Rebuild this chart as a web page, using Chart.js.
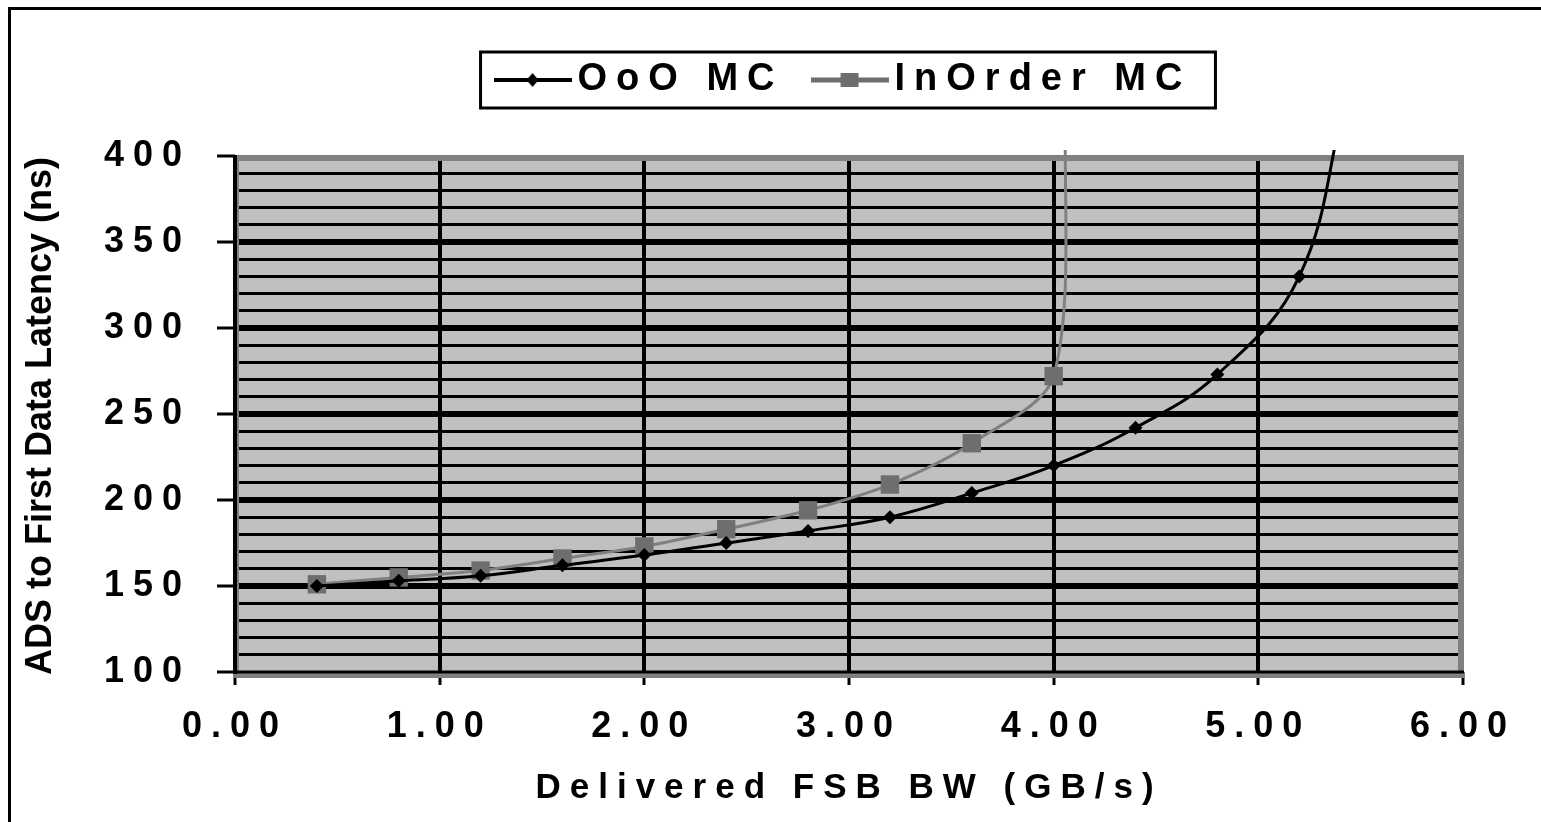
<!DOCTYPE html>
<html>
<head>
<meta charset="utf-8">
<title>ADS to First Data Latency</title>
<script src="https://cdn.jsdelivr.net/npm/chart.js@4.4.0/dist/chart.umd.min.js"></script>
<style>
  html, body { margin: 0; padding: 0; background: #fff; }
  #wrap { width: 1541px; height: 822px; position: relative; }
</style>
</head>
<body>
<div id="wrap"><canvas id="latencyChart"></canvas></div>
<script>
// values (the last point of each series is the line running off the top)
const oooBandwidth = [0.4, 0.8, 1.2, 1.6, 2.0, 2.4, 2.8, 3.2, 3.6, 4.0, 4.4, 4.8, 5.2, 5.42];
const oooLatency = [150, 153, 156, 162, 168, 175, 182, 190, 204, 220, 242, 273, 330, 430];
const inOrderBandwidth = [0.4, 0.8, 1.2, 1.6, 2.0, 2.4, 2.8, 3.2, 3.6, 4.0, 4.06];
const inOrderLatency = [151, 155, 159, 166, 173, 183, 194, 209, 233, 272, 430];
const xTickValues = [0, 1, 2, 3, 4, 5, 6];
const yTickLabels = [100, 150, 200, 250, 300, 350, 400];

const FONT = 'Arial, "Liberation Sans", sans-serif';
Chart.defaults.font.family = FONT;
Chart.defaults.font.weight = 'bold';
Chart.defaults.color = '#000';

function toPoints(xs, ys) {
    return xs.map((x, i) => ({ x: x, y: ys[i] }));
}

// legend samples: a short line with the marker on it
function makeIcon(lineColor, lineWidth, drawMarker) {
    const c = document.createElement('canvas');
    c.width = 78;
    c.height = 22;
    const g = c.getContext('2d');
    g.strokeStyle = lineColor;
    g.lineWidth = lineWidth;
    g.beginPath();
    g.moveTo(0, 11);
    g.lineTo(78, 11);
    g.stroke();
    drawMarker(g);
    return c;
}
const oooIcon = makeIcon('#000', 4, g => {
    g.fillStyle = '#000';
    g.beginPath();
    g.moveTo(39, 4); g.lineTo(45, 11); g.lineTo(39, 18); g.lineTo(33, 11);
    g.closePath();
    g.fill();
});
const inOrderIcon = makeIcon('#6e6e6e', 5, g => {
    g.fillStyle = '#6e6e6e';
    g.fillRect(30, 4, 18, 14);
});
const legendIcons = [oooIcon, inOrderIcon];

const plotDecor = {
    id: 'plotDecor',
    beforeInit(chart) {
        const legend = chart.legend;
        if (legend) {
            const fit = legend.fit;
            legend.fit = function () {
                fit.call(this);
                this.height = 135; // legend block ends where the plot starts
            };
        }
    },
    beforeLayout(chart) {
        chart.ctx.letterSpacing = '9px';
    },
    beforeDraw(chart) {
        const ctx = chart.ctx;
        const a = chart.chartArea;
        ctx.letterSpacing = '9px';
        ctx.save();
        ctx.fillStyle = '#c0c0c0';
        ctx.fillRect(a.left, a.top, a.right - a.left, a.bottom - a.top);
        // legend frame
        const hb = chart.legend.legendHitBoxes;
        if (hb && hb.length) {
            const first = hb[0];
            const last = hb[hb.length - 1];
            const cy = first.top + first.height / 2;
            const l = first.left - 26;
            const r = last.left + last.width + 24;
            ctx.fillStyle = '#fff';
            ctx.fillRect(l, cy - 28, r - l, 56);
            ctx.strokeStyle = '#000';
            ctx.lineWidth = 3;
            ctx.strokeRect(l, cy - 28, r - l, 56);
        }
        ctx.restore();
    },
    beforeDatasetsDraw(chart) {
        const ctx = chart.ctx;
        const a = chart.chartArea;
        ctx.save();
        // gray plot-area frame
        ctx.strokeStyle = '#808080';
        ctx.lineWidth = 6;
        ctx.strokeRect(a.left + 1, a.top + 2, (a.right - 2) - (a.left + 1), (a.bottom + 3) - (a.top + 2));
        // black axis lines
        ctx.strokeStyle = '#000';
        ctx.lineWidth = 4;
        ctx.beginPath();
        ctx.moveTo(a.left, a.top - 1);
        ctx.lineTo(a.left, a.bottom + 2);
        ctx.stroke();
        ctx.lineWidth = 3;
        ctx.beginPath();
        ctx.moveTo(a.left - 2, a.bottom);
        ctx.lineTo(a.right + 1, a.bottom);
        ctx.stroke();
        ctx.restore();
    },
    afterDraw(chart) {
        const ctx = chart.ctx;
        const a = chart.chartArea;
        ctx.save();
        ctx.letterSpacing = '0px';
        ctx.translate(41, (a.top + a.bottom) / 2 + 2);
        ctx.rotate(-Math.PI / 2);
        ctx.font = 'bold 36px ' + FONT;
        ctx.fillStyle = '#000';
        ctx.textAlign = 'center';
        ctx.textBaseline = 'middle';
        ctx.fillText('ADS to First Data Latency (ns)', 0, 0);
        ctx.restore();
        // outer frame of the figure
        ctx.save();
        ctx.strokeStyle = '#000';
        ctx.lineWidth = 3;
        ctx.beginPath();
        ctx.moveTo(9.5, chart.height);
        ctx.lineTo(9.5, 8.5);
        ctx.lineTo(chart.width, 8.5);
        ctx.stroke();
        ctx.restore();
        ctx.letterSpacing = '9px';
    }
};

const ctx = document.getElementById('latencyChart').getContext('2d');
const latencyChart = new Chart(ctx, {
    type: 'scatter',
    data: {
        datasets: [{
            label: 'OoO MC',
            data: toPoints(oooBandwidth, oooLatency),
            showLine: true,
            borderColor: '#000',
            backgroundColor: '#000',
            borderWidth: 3,
            pointStyle: 'rectRot',
            pointRadius: c => c.dataIndex === oooLatency.length - 1 ? 0 : 7,
            pointBorderWidth: 0,
            tension: 0.4,
            capBezierPoints: false,
            clip: { left: 8, top: 6, right: 8, bottom: 8 }
        }, {
            label: 'InOrder MC',
            data: toPoints(inOrderBandwidth, inOrderLatency),
            showLine: true,
            borderColor: '#808080',
            backgroundColor: '#6e6e6e',
            borderWidth: 3,
            pointStyle: 'rect',
            pointRadius: c => c.dataIndex === inOrderLatency.length - 1 ? 0 : 13,
            pointBorderWidth: 0,
            tension: 0.3,
            capBezierPoints: false,
            clip: { left: 8, top: 6, right: 8, bottom: 8 }
        }]
    },
    options: {
        responsive: true,
        maintainAspectRatio: false,
        animation: false,
        layout: { padding: { left: 104, right: 78, top: 21, bottom: 0 } },
        plugins: {
            tooltip: { enabled: false },
            legend: {
                position: 'top',
                fullSize: false,
                labels: {
                    usePointStyle: true,
                    pointStyleWidth: 52,
                    padding: 40,
                    color: '#000',
                    font: { size: 38, weight: 'bold' },
                    generateLabels: chart => chart.data.datasets.map((ds, i) => ({
                        text: ds.label,
                        pointStyle: legendIcons[i],
                        fillStyle: ds.backgroundColor,
                        strokeStyle: ds.borderColor,
                        lineWidth: 0,
                        hidden: false,
                        fontColor: '#000',
                        datasetIndex: i
                    }))
                }
            }
        },
        scales: {
            x: {
                type: 'linear',
                min: 0,
                max: 6,
                afterBuildTicks: s => { s.ticks = xTickValues.map(v => ({ value: v })); },
                afterFit: s => { s.height = 150; },
                ticks: {
                    padding: 20,
                    maxRotation: 0,
                    autoSkip: false,
                    color: '#000',
                    font: { size: 36, weight: 'bold' },
                    callback: v => Number(v).toFixed(2)
                },
                grid: {
                    color: c => (c.tick && (c.tick.value === 0 || c.tick.value === 6)) ? 'transparent' : '#000',
                    lineWidth: 4,
                    tickLength: 13,
                    tickColor: '#000',
                    tickWidth: 3
                },
                border: { display: false },
                title: {
                    display: true,
                    text: 'Delivered FSB BW (GB/s)',
                    color: '#000',
                    font: { size: 35, weight: 'bold' },
                    padding: { top: 20, bottom: 13 }
                }
            },
            y: {
                min: 100,
                max: 400,
                afterFit: s => { s.width = 131; },
                ticks: {
                    stepSize: 10,
                    autoSkip: false,
                    padding: 26,
                    color: '#000',
                    font: { size: 36, weight: 'bold' },
                    callback: v => yTickLabels.includes(v) ? String(v) : ''
                },
                grid: {
                    color: c => (c.tick && (c.tick.value === 100 || c.tick.value === 400)) ? 'transparent' : '#000',
                    lineWidth: c => (c.tick && c.tick.value % 50 === 0) ? 6 : 3,
                    tickLength: 18,
                    tickColor: c => (c.tick && c.tick.value % 50 === 0) ? '#000' : 'transparent',
                    tickWidth: 3
                },
                border: { display: false }
            }
        }
    },
    plugins: [plotDecor]
});
</script>
</body>
</html>
